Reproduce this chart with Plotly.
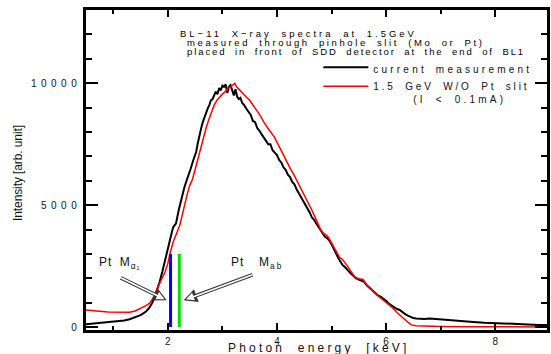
import plotly.graph_objects as go

# ---- spectrum data -------------------------------------------------------
# current measurement (black)
cur_energy = [
    0.50, 0.60, 0.70, 0.80, 0.90, 1.00, 1.10, 1.20, 1.30, 1.40, 1.50, 1.55,
    1.60, 1.65, 1.70, 1.75, 1.80, 1.85, 1.90, 1.95, 2.00, 2.05, 2.08, 2.10,
    2.15, 2.20, 2.25, 2.30, 2.35, 2.38, 2.42, 2.46, 2.50, 2.52, 2.55, 2.58,
    2.61, 2.64, 2.67, 2.70, 2.73, 2.76, 2.79, 2.82, 2.85, 2.88, 2.91, 2.94,
    2.97, 3.00, 3.03, 3.06, 3.09, 3.12, 3.15, 3.18, 3.21, 3.24, 3.27, 3.30,
    3.33, 3.36, 3.40, 3.44, 3.48, 3.52, 3.56, 3.60, 3.64, 3.68, 3.72, 3.76,
    3.80, 3.84, 3.88, 3.92, 3.96, 4.00, 4.04, 4.08, 4.12, 4.16, 4.20, 4.24,
    4.28, 4.32, 4.36, 4.40, 4.44, 4.48, 4.52, 4.56, 4.60, 4.64, 4.68, 4.72,
    4.76, 4.80, 4.84, 4.88, 4.92, 4.96, 5.00, 5.04, 5.08, 5.12, 5.16, 5.20,
    5.25, 5.30, 5.35, 5.40, 5.45, 5.50, 5.55, 5.60, 5.65, 5.70, 5.75, 5.80,
    5.85, 5.90, 5.95, 6.00, 6.05, 6.10, 6.15, 6.20, 6.25, 6.30, 6.35, 6.40,
    6.45, 6.50, 6.55, 6.60, 6.70, 6.80, 6.90, 7.00, 7.20, 7.40, 7.60, 7.80,
    8.00, 8.20, 8.40, 8.60, 8.80, 8.95,
]
cur_counts = [
    120, 140, 150, 170, 200, 210, 240, 270, 320, 390, 490, 560,
    640, 760, 930, 1180, 1500, 1860, 2280, 2750, 3250, 3800, 3950, 4100,
    4250, 4800, 5290, 5700, 6050, 6230, 6500, 6800, 7050, 7190, 7550, 7900,
    8140, 8400, 8600, 8750, 8960, 9100, 9300, 9350, 9510, 9650, 9550, 9800,
    9700, 9900, 9850, 9950, 9600, 9850, 9920, 9700, 9500, 9750, 9450, 9350,
    9400, 9200, 9100, 8950, 8800, 8700, 8450, 8400, 8150, 8050, 7900, 7750,
    7650, 7500, 7500, 7250, 7150, 7050, 6850, 6750, 6550, 6450, 6250, 6150,
    5950, 5850, 5650, 5500, 5350, 5150, 5050, 4850, 4700, 4500, 4400, 4250,
    4100, 3950, 3850, 3700, 3650, 3550, 3400, 3200, 3000, 2850, 2700, 2550,
    2450, 2300, 2200, 2100, 2000, 1950, 1900, 1850, 1700, 1600, 1500, 1400,
    1300, 1250, 1180, 1080, 960, 880, 800, 740, 700, 600, 530, 470,
    410, 370, 350, 340, 330, 350, 330, 300, 280, 240, 210, 180,
    170, 150, 120, 110, 90, 80,
]

# 1.5 GeV without Pt slit (red)
ref_energy = [
    0.50, 0.60, 0.70, 0.80, 0.90, 1.00, 1.10, 1.20, 1.30, 1.40, 1.50, 1.60,
    1.67, 1.72, 1.76, 1.80, 1.85, 1.90, 1.95, 2.00, 2.04, 2.10, 2.13, 2.18,
    2.22, 2.27, 2.30, 2.35, 2.40, 2.45, 2.50, 2.55, 2.60, 2.65, 2.70, 2.75,
    2.80, 2.85, 2.90, 2.95, 3.00, 3.05, 3.10, 3.15, 3.20, 3.23, 3.26, 3.30,
    3.34, 3.40, 3.45, 3.50, 3.55, 3.60, 3.65, 3.70, 3.76, 3.80, 3.85, 3.90,
    3.95, 4.00, 4.05, 4.10, 4.15, 4.20, 4.25, 4.31, 4.35, 4.40, 4.45, 4.50,
    4.55, 4.60, 4.65, 4.70, 4.75, 4.80, 4.85, 4.90, 4.95, 5.00, 5.05, 5.10,
    5.15, 5.20, 5.25, 5.30, 5.35, 5.43, 5.50, 5.58, 5.65, 5.73, 5.82, 5.91,
    6.00, 6.10, 6.20, 6.28, 6.35, 6.40, 6.46, 6.55, 6.70, 7.00, 7.50, 8.00,
    8.50, 8.95,
]
ref_counts = [
    700, 690, 660, 640, 620, 610, 600, 600, 610, 660, 760, 880,
    980, 1150, 1310, 1550, 1800, 2020, 2270, 2600, 3030, 3500, 3700, 3950,
    4180, 4700, 5000, 5400, 5800, 6050, 6450, 6900, 7350, 7750, 8150, 8500,
    8850, 9100, 9300, 9450, 9550, 9650, 9800, 9850, 9950, 9990, 9850, 9750,
    9640, 9500, 9400, 9300, 9150, 9000, 8800, 8650, 8400, 8250, 8100, 7950,
    7800, 7580, 7350, 7120, 6900, 6700, 6480, 6250, 6080, 5850, 5620, 5400,
    5200, 4980, 4750, 4500, 4250, 4000, 3850, 3780, 3650, 3450, 3250, 3000,
    2850, 2780, 2650, 2480, 2300, 2050, 1980, 1950, 1720, 1520, 1340, 1170,
    1000, 830, 600, 420, 300, 200, 90, 50, 35, 25, 15, 10,
    8, 5,
]

# Pt M-line markers
line_energy = [2.05, 2.21]
line_height = [3000, 3000]
line_colors = ["#0000ff", "#00dd00"]

x_ticks = [2, 4, 6, 8]
y_ticks = [0, 5000, 10000]

FONT = "Liberation Sans, Arial, sans-serif"
NB = "\u00a0"


def spaced(text, ls=2.0, ws=3.0):
    return f'<span style="letter-spacing:{ls}px;word-spacing:{ws}px">{text}</span>'


fig = go.Figure()

fig.add_trace(go.Scatter(
    x=cur_energy, y=cur_counts, mode="lines",
    line=dict(color="black", width=2),
    name=spaced("current measurement", 3.2, 3),
))
fig.add_trace(go.Scatter(
    x=ref_energy, y=ref_counts, mode="lines",
    line=dict(color="#ff0000", width=1.5),
    name=spaced("1.5 GeV W/O Pt slit", 2.8, 4) + "<br>" +
         spaced(NB * 4 + "(I < 0.1mA)", 3.2, 4),
))

for e, h, c in zip(line_energy, line_height, line_colors):
    fig.add_trace(go.Scatter(
        x=[e, e], y=[0, h], mode="lines",
        line=dict(color=c, width=3), showlegend=False, hoverinfo="skip",
    ))

# header text: (text, x, y, letter spacing)
header = [
    ("BL\u221211 X\u2212ray spectra at 1.5GeV", 2.18, 12050, 3.0),
    ("measured through pinhole slit (Mo or Pt)", 2.31, 11680, 2.6),
    ("placed in front of SDD detector at the end of BL1", 2.31, 11290, 1.9),
]
for txt, hx, hy, ls in header:
    fig.add_annotation(
        x=hx, y=hy, xref="x", yref="y", xanchor="left", yanchor="middle",
        text=spaced(txt, ls, 4), showarrow=False,
        font=dict(family=FONT, size=9.5, color="#000"),
    )

# line labels
fig.add_annotation(x=0.7, y=2620, xref="x", yref="y", xanchor="left",
                   text=spaced("Pt" + NB + "M<sub>α₁</sub>", 1.0, 3), showarrow=False,
                   font=dict(family=FONT, size=12, color="#111"))
fig.add_annotation(x=3.13, y=2620, xref="x", yref="y", xanchor="left",
                   text=spaced("Pt" + NB + NB + "M<sub>" + spaced("ab", 2, 0) + "</sub>", 1.0, 3),
                   showarrow=False,
                   font=dict(family=FONT, size=12, color="#111"))

# hollow pointer arrows: dark outline, white core pulled back inside the head
arrows = [((1.98, 1100), (1.11, 2050)), ((2.29, 1100), (3.58, 2170))]
for (hx, hy), (tx, ty) in arrows:
    for col, w, sz, so in (("#333", 3.6, 0.75, 0), ("white", 1.6, 1.0, 2.5)):
        fig.add_annotation(
            x=hx, y=hy, ax=tx, ay=ty, xref="x", yref="y", axref="x", ayref="y",
            text="", showarrow=True, arrowhead=2, arrowsize=sz,
            arrowwidth=w, arrowcolor=col, standoff=so,
        )

# axis titles
fig.add_annotation(x=0.505, y=-0.029, xref="paper", yref="paper",
                   xanchor="center", yanchor="top",
                   text=spaced("Photon energy [keV]", 3.2, 6), showarrow=False,
                   font=dict(family=FONT, size=12, color="#111"))
fig.add_annotation(x=-0.148, y=0.49, xref="paper", yref="paper",
                   xanchor="center", yanchor="middle", textangle=-90,
                   text=spaced("Intensity [arb. unit]", -0.1, 0), showarrow=False,
                   font=dict(family=FONT, size=12, color="#111"))

fig.update_xaxes(
    range=[0.5, 8.95], tickvals=x_ticks,
    ticktext=[str(v) for v in x_ticks],
    ticks="inside", ticklen=7, tickwidth=2, tickcolor="black",
    minor=dict(dtick=1, ticks="inside", ticklen=4, tickwidth=1.5, tickcolor="black"),
    showline=True, linewidth=2.5, linecolor="black", mirror="allticks",
    showgrid=False, zeroline=False,
    tickfont=dict(family=FONT, size=10, color="#111"),
)
fig.update_yaxes(
    range=[-120, 13000], tickvals=y_ticks,
    ticktext=[spaced(str(v), 4.5, 0) for v in y_ticks],
    ticks="inside", ticklen=12, tickwidth=2, tickcolor="black",
    minor=dict(dtick=1000, ticks="inside", ticklen=6, tickwidth=1.5, tickcolor="black"),
    showline=True, linewidth=2.5, linecolor="black", mirror="allticks",
    showgrid=False, zeroline=False,
    tickfont=dict(family=FONT, size=10, color="#111"),
)

fig.update_layout(
    width=551, height=354,
    margin=dict(l=86, r=1, t=10, b=24),
    paper_bgcolor="white", plot_bgcolor="white",
    showlegend=True,
    legend=dict(
        x=0.504, y=0.862, xanchor="left", yanchor="top",
        bgcolor="rgba(0,0,0,0)", borderwidth=0, valign="top",
        font=dict(family=FONT, size=10, color="#111"),
        itemwidth=45, tracegroupgap=0,
    ),
)

fig.write_html("out.html")
